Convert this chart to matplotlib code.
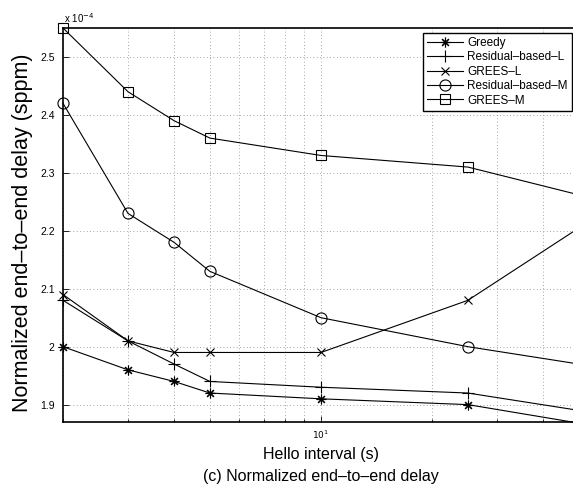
import numpy as np
import matplotlib.pyplot as plt
from matplotlib.ticker import FixedLocator, NullFormatter, FixedFormatter

plt.rcParams['font.family'] = ['Liberation Sans', 'DejaVu Sans']

# hello interval (s)
hello = [2, 3, 4, 5, 10, 25, 50]

# normalized end-to-end delay, in units of 1e-4 sppm
greedy = [2.00, 1.96, 1.94, 1.92, 1.91, 1.90, 1.868]
resid_l = [2.08, 2.01, 1.97, 1.94, 1.93, 1.92, 1.89]
grees_l = [2.09, 2.01, 1.99, 1.99, 1.99, 2.08, 2.205]
resid_m = [2.42, 2.23, 2.18, 2.13, 2.05, 2.00, 1.97]
grees_m = [2.55, 2.44, 2.39, 2.36, 2.33, 2.31, 2.262]

y_ticks = [1.9, 2.0, 2.1, 2.2, 2.3, 2.4, 2.5]
y_labels = ["1.9", "2", "2.1", "2.2", "2.3", "2.4", "2.5"]

fig = plt.figure(figsize=(5.73, 4.9), dpi=100)
ax = fig.add_axes([63 / 573, 1 - 422 / 490, (579 - 63) / 573, (422 - 28) / 490])

series = [
    ("Greedy", greedy, (8, 2, 0), 7),
    ("Residual\u2013based\u2013L", resid_l, "+", 8),
    ("GREES\u2013L", grees_l, "x", 5.5),
    ("Residual\u2013based\u2013M", resid_m, "o", 8),
    ("GREES\u2013M", grees_m, "s", 7),
]
for name, vals, mk, ms in series:
    ax.plot(hello, vals, color="black", lw=0.8, marker=mk, markersize=ms,
            markerfacecolor="none", markeredgecolor="black", markeredgewidth=0.8,
            label=name, clip_on=False)

ax.set_xscale("log")
ax.set_xlim(2, 50)
ax.set_ylim(1.87, 2.55)

minor = [2, 3, 4, 5, 6, 7, 8, 9, 20, 30, 40]
ax.xaxis.set_major_locator(FixedLocator([10]))
ax.xaxis.set_major_formatter(FixedFormatter([r"$10^1$"]))
ax.xaxis.set_minor_locator(FixedLocator(minor))
ax.xaxis.set_minor_formatter(NullFormatter())
ax.set_yticks(y_ticks)
ax.set_yticklabels(y_labels)

ax.tick_params(which="both", direction="in", labelsize=7.5, width=0.6)
ax.tick_params(which="major", length=4)
ax.tick_params(which="minor", length=2.5)
ax.tick_params(axis="x", pad=5, labelsize=6.5)
ax.tick_params(axis="y", pad=6)

ax.grid(True, which="both", axis="x", linestyle=(0, (1, 3)), color="#888888", lw=0.6)
ax.grid(True, which="major", axis="y", linestyle=(0, (1, 3)), color="#888888", lw=0.6)

for s in ax.spines.values():
    s.set_linewidth(1.2)

fig.text(23 / 573, 1 - 233 / 490, "Normalized end\u2013to\u2013end delay (sppm)",
         rotation=90, ha="center", va="center", fontsize=15.5)
fig.text(321 / 573, 1 - 459 / 490, "Hello interval (s)", ha="center", va="baseline", fontsize=11.5)
fig.text(321 / 573, 1 - 481 / 490, "(c) Normalized end\u2013to\u2013end delay", ha="center", va="baseline", fontsize=11.5)
fig.text(64 / 573, 1 - 18 / 490, r"x 10$^{-4}$", ha="left", va="center", fontsize=7)

leg = ax.legend(loc="upper right", bbox_to_anchor=(572 / 573, 1 - 33 / 490),
                bbox_transform=fig.transFigure, fontsize=8.5, frameon=True,
                fancybox=False, edgecolor="black", framealpha=1,
                borderpad=0.35, labelspacing=0.2, handlelength=3.0, handletextpad=0.4,
                borderaxespad=0)
leg.get_frame().set_linewidth(1.0)

fig.savefig("out.png", dpi=100)
